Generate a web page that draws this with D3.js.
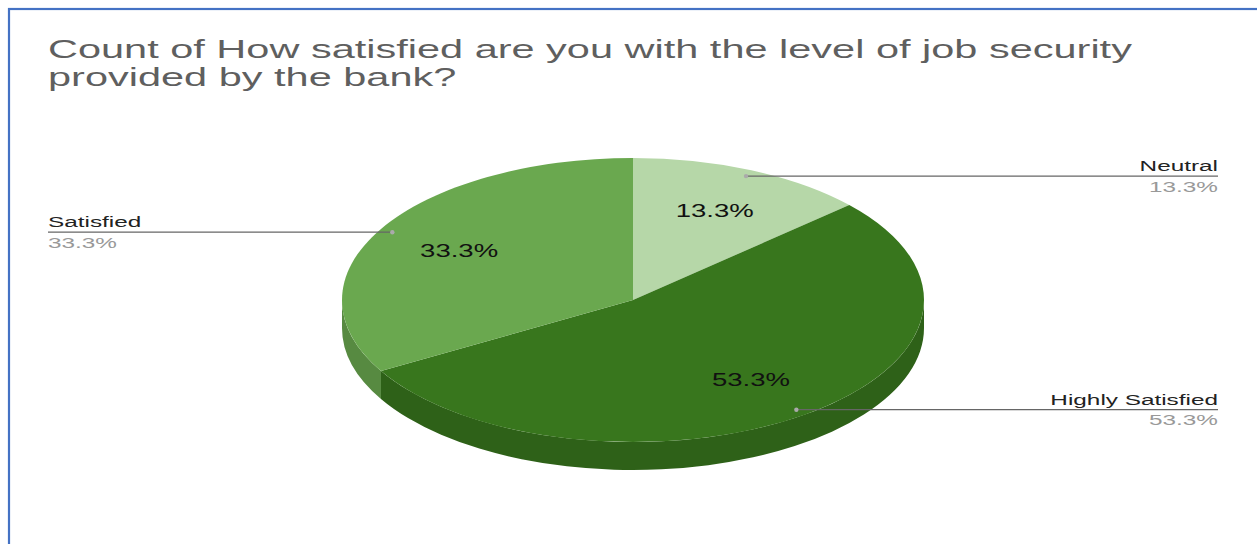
<!DOCTYPE html>
<html>
<head>
<meta charset="utf-8">
<script src="https://cdn.jsdelivr.net/npm/d3@7"></script>
<style>
  body { margin: 0; background: #fff; }
  svg { display: block; font-family: "Liberation Sans", Arial, sans-serif; }
</style>
</head>
<body>
<script>
// chart data
var categories = ["Neutral", "Highly Satisfied", "Satisfied"];
var counts = [2, 8, 5];
var slice_colors = ["#b6d7a8", "#38761d", "#6aa84f"];
var title_lines = ["Count of How satisfied are you with the level of job security",
                   "provided by the bank?"];

var width = 1257, height = 544;
var svg = d3.select("body").append("svg")
    .attr("width", width).attr("height", height);

// blue frame round the chart
svg.append("rect")
    .attr("x", 9).attr("y", 9)
    .attr("width", width + 20).attr("height", height + 20)
    .attr("fill", "#fff")
    .attr("stroke", "#4472c4").attr("stroke-width", 2.2);

// title (the picture is stretched sideways, so text is too)
var title_sx = 1.66;
title_lines.forEach(function (line, i) {
    svg.append("text")
        .attr("transform", "translate(48," + (58 + i * 27.5) + ") scale(" + title_sx + ",1)")
        .attr("font-size", "25px")
        .attr("fill", "#5f5f5f")
        .text(line);
});

// pie geometry
var cx = 633, cy = 300, rx = 291, ry = 142, depth = 28;
var total = d3.sum(counts);
var color = d3.scaleOrdinal().domain(categories).range(slice_colors);
var pct = function (v) { return (v / total * 100).toFixed(1) + "%"; };

var pie_gen = d3.pie().sort(null).value(function (d) { return d; });
var slices = pie_gen(counts);

function pt(a, f, dy) {
    return [cx + rx * f * Math.sin(a), cy - ry * f * Math.cos(a) + (dy || 0)];
}

// side walls, front half only
var side_g = svg.append("g");
slices.forEach(function (s, i) {
    var a0 = Math.max(s.startAngle, Math.PI / 2);
    var a1 = Math.min(s.endAngle, Math.PI * 3 / 2);
    if (a0 >= a1) return;
    var p0 = pt(a0, 1), p1 = pt(a1, 1), q1 = pt(a1, 1, depth), q0 = pt(a0, 1, depth);
    var d = "M" + p0 + " A" + rx + "," + ry + " 0 0 1 " + p1 +
            " L" + q1 + " A" + rx + "," + ry + " 0 0 0 " + q0 + " Z";
    side_g.append("path")
        .attr("d", d)
        .attr("fill", d3.color(color(categories[i])).darker(0.55));
});

// top face
var arc_gen = d3.arc().innerRadius(0).outerRadius(rx);
svg.append("g")
    .attr("transform", "translate(" + cx + "," + cy + ") scale(1," + (ry / rx) + ")")
    .selectAll("path")
    .data(slices)
    .join("path")
    .attr("d", arc_gen)
    .attr("fill", function (d, i) { return color(categories[i]); });

// percentages inside slices
slices.forEach(function (s, i) {
    var m = (s.startAngle + s.endAngle) / 2;
    var p = pt(m, 0.69);
    svg.append("text")
        .attr("transform", "translate(" + p[0] + "," + p[1] + ") scale(1.45,1)")
        .attr("text-anchor", "middle")
        .attr("dominant-baseline", "central")
        .attr("font-size", "19px")
        .attr("fill", "#111")
        .text(pct(counts[i]));
});

// leader lines and outside labels
var label_sx = 1.57;
slices.forEach(function (s, i) {
    var m = (s.startAngle + s.endAngle) / 2;
    var p = pt(m, 0.955);
    var right = Math.sin(m) > 0;
    var x_end = right ? 1218 : 48;
    var anchor = right ? "end" : "start";
    svg.append("line")
        .attr("x1", p[0]).attr("y1", p[1])
        .attr("x2", x_end).attr("y2", p[1])
        .attr("stroke", "#666").attr("stroke-width", 1.2);
    svg.append("circle")
        .attr("cx", p[0]).attr("cy", p[1]).attr("r", 2.2)
        .attr("fill", "#aaa");
    svg.append("text")
        .attr("transform", "translate(" + x_end + "," + (p[1] - 5) + ") scale(" + label_sx + ",1)")
        .attr("text-anchor", anchor)
        .attr("font-size", "15.5px")
        .attr("fill", "#222")
        .text(categories[i]);
    svg.append("text")
        .attr("transform", "translate(" + x_end + "," + (p[1] + 15.5) + ") scale(" + label_sx + ",1)")
        .attr("text-anchor", anchor)
        .attr("font-size", "15.5px")
        .attr("fill", "#999")
        .text(pct(counts[i]));
});
</script>
</body>
</html>
